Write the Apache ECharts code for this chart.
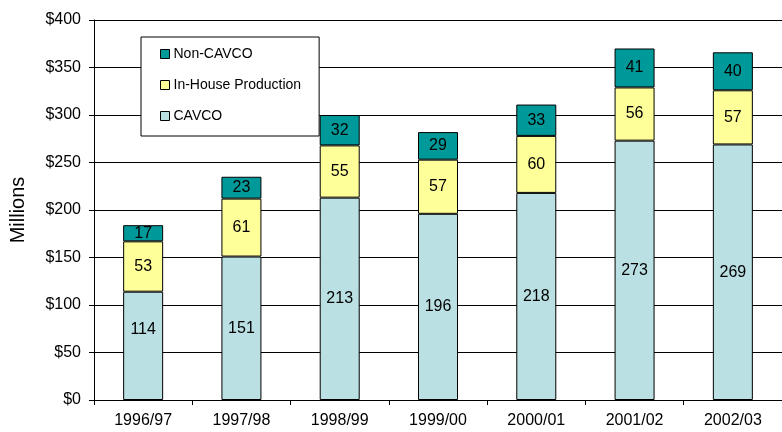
<!DOCTYPE html>
<html>
<head>
<meta charset="utf-8">
<script src="https://cdn.jsdelivr.net/npm/echarts@6/dist/echarts.min.js"></script>
<style>
  html, body { margin: 0; padding: 0; background: #fff; }
  #chart { width: 782px; height: 432px; }
</style>
</head>
<body>
<div id="chart"></div>
<script>
const years = ['1996/97', '1997/98', '1998/99', '1999/00', '2000/01', '2001/02', '2002/03'];
const cavco = [114, 151, 213, 196, 218, 273, 269];
const inHouse = [53, 61, 55, 57, 60, 56, 57];
const nonCavco = [17, 23, 32, 29, 33, 41, 40];

const font = 'Liberation Sans, Arial, sans-serif';
const chart = echarts.init(document.getElementById('chart'));

function bar(name, data, color) {
  return {
    name: name,
    type: 'bar',
    stack: 'total',
    data: data,
    barWidth: 40,
    itemStyle: { color: color, borderColor: '#000', borderWidth: 1 },
    label: { show: true, position: 'inside', color: '#000', fontSize: 16, fontFamily: font },
    emphasis: { disabled: true }
  };
}

// the first CAVCO label sits a bit higher than the bar centre in the original
const cavcoData = cavco.map(function (v, i) {
  return i === 0 ? { value: v, label: { offset: [0, -16] } } : v;
});

const option = {
  animation: false,
  grid: { left: 91, right: -5, top: 20, bottom: 32 },
  legend: {
    orient: 'vertical',
    left: 141,
    top: 37,
    data: ['Non-CAVCO', 'In-House Production', 'CAVCO'],
    icon: 'rect',
    itemWidth: 9,
    itemHeight: 9,
    itemGap: 17,
    padding: [10, 18, 13, 19],
    backgroundColor: '#fff',
    borderColor: '#000',
    borderWidth: 1,
    borderRadius: 0,
    textStyle: { fontSize: 14, fontFamily: font, color: '#000', padding: [0, 0, 0, -1] },
    itemStyle: { borderColor: '#000', borderWidth: 1 },
    selectedMode: false
  },
  xAxis: {
    type: 'category',
    data: years,
    axisLine: { lineStyle: { color: '#000', width: 1 } },
    axisTick: { show: true, length: 5, lineStyle: { color: '#000' } },
    axisLabel: { color: '#000', fontSize: 16, fontFamily: font, margin: 13 }
  },
  yAxis: {
    type: 'value',
    min: 0,
    max: 400,
    interval: 50,
    name: 'Millions',
    nameLocation: 'middle',
    nameGap: 66,
    nameRotate: 90,
    nameTextStyle: { fontSize: 20, fontFamily: font, color: '#000' },
    axisLine: { show: true, lineStyle: { color: '#000', width: 1 } },
    axisTick: { show: true, length: 5, lineStyle: { color: '#000' } },
    axisLabel: { color: '#000', fontSize: 16, fontFamily: font, margin: 13, formatter: '${value}' },
    splitLine: { show: true, lineStyle: { color: '#000', width: 1 } }
  },
  series: [
    bar('CAVCO', cavcoData, '#BBE0E3'),
    bar('In-House Production', inHouse, '#FFFF99'),
    bar('Non-CAVCO', nonCavco, '#009999')
  ]
};

chart.setOption(option);
window.addEventListener('resize', function () {
  chart.resize();
});
</script>
</body>
</html>
